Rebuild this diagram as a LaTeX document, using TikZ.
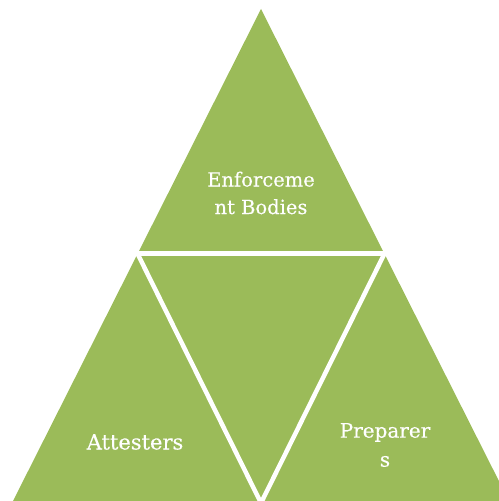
\documentclass[tikz,border=0pt]{standalone}
\usepackage{fontspec}
\setmainfont{DejaVu Serif}
\newfontfamily\labelfont{DejaVu Serif}[FakeBold=0.3]
\usetikzlibrary{calc}
\definecolor{olive}{HTML}{9BBB59}
\tikzset{
  seglabel/.style={text=white, align=center, inner sep=0pt, font=\labelfont\fontsize{20bp}{29bp}\selectfont},
  gapline/.style={white, line width=4.5bp, line cap=butt}
}
\begin{document}
\begin{tikzpicture}[x=1bp, y=-1bp]
\useasboundingbox (0,0) rectangle (499,501);
\begin{scope}
\clip (0,0) rectangle (499,501);
\coordinate (apex) at (261,9);
\coordinate (bl) at (13,501);
\coordinate (br) at (509,501);
\coordinate (ml) at (137.5,253.5);
\coordinate (mr) at (384.5,253.5);
\coordinate (bm) at (261,501);
\fill[olive] (apex) -- (br) -- (bl) -- cycle;
\draw[gapline] ($(ml)+(-10,0)$) -- ($(mr)+(10,0)$);
\draw[gapline, line join=miter] ($(ml)!-0.05!(bm)$) -- ($(bm)+(0,2)$) -- ($(mr)!-0.05!(bm)$);
\end{scope}
\node[seglabel, font=\labelfont\fontsize{19.5bp}{27.5bp}\selectfont] (top) at (261,193) {Enforceme\\nt Bodies};
\node[seglabel, font=\labelfont\fontsize{21bp}{29bp}\selectfont] (left) at (135,442) {Attesters};
\node[seglabel] (right) at (385,445) {Preparer\\s};
\end{tikzpicture}
\end{document}
